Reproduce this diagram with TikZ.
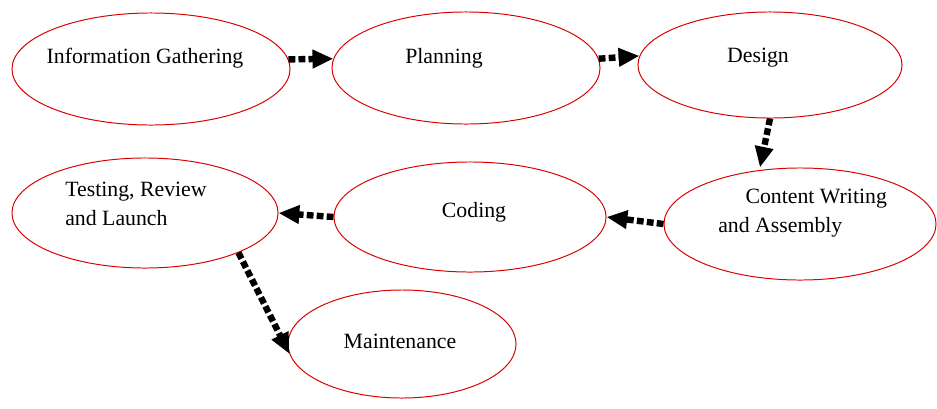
\documentclass[tikz,border=0pt]{standalone}
\usepackage{fontspec}
\setmainfont{Liberation Serif}
\usetikzlibrary{shapes,arrows.meta}

\begin{document}
\begin{tikzpicture}[x=0.025cm,y=-0.025cm]
\tikzstyle{stage}=[draw=red!85!black,shape=ellipse,line width=0.7pt,inner sep=0]
\tikzstyle{lbl}=[font=\fontsize{15.5}{21}\selectfont,inner sep=0]
\tikzstyle{flow}=[-{Triangle[length=0.52cm,width=0.44cm]},line width=0.16cm,dash pattern=on 0.17cm off 0.08cm]
\useasboundingbox (0,0) rectangle (937,408);
% stages
\node[stage,minimum width=6.95cm,minimum height=2.8cm] (info) at (151,69) {};
\node[stage,minimum width=6.7cm,minimum height=2.8cm] (plan) at (466,68) {};
\node[stage,minimum width=6.6cm,minimum height=2.65cm] (design) at (770,65) {};
\node[stage,minimum width=6.8cm,minimum height=2.8cm] (content) at (800,224) {};
\node[stage,minimum width=6.8cm,minimum height=2.75cm] (coding) at (470,217) {};
\node[stage,minimum width=6.65cm,minimum height=2.75cm] (testing) at (145,213) {};
\node[stage,minimum width=5.7cm,minimum height=2.7cm] (maint) at (402,344) {};
% texts
\node[lbl] (infotext) at (145,58) {Information Gathering};
\node[lbl] (plantext) at (444,58) {Planning};
\node[lbl] (designtext) at (758,58) {Design};
\node[lbl,align=left,anchor=west] (contenttext) at (718,213) {\hspace*{0.68cm}Content Writing\\and Assembly};
\node[lbl] (codingtext) at (474,212) {Coding};
\node[lbl,align=left,anchor=west] (testingtext) at (65,204) {Testing, Review\\and Launch};
\node[lbl] (mainttext) at (400,341) {Maintenance};
% flow
\draw[flow] (info.4) -- (plan.176);
\draw[flow] (plan.4) -- (design.176);
\draw[flow] (design.south) -- ([xshift=-1cm]content.north);
\draw[flow] (content.west) -- (coding.east);
\draw[flow] (coding.west) -- (testing.east);
\draw[flow] (testing.-23) -- (maint.185);
\end{tikzpicture}
\end{document}
